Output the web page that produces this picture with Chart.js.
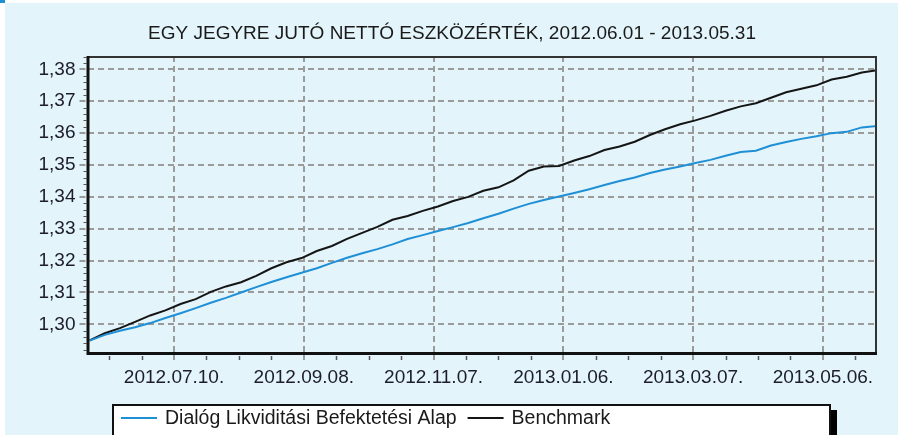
<!DOCTYPE html>
<html>
<head>
<meta charset="utf-8">
<script src="https://cdn.jsdelivr.net/npm/chart.js@4.4.1/dist/chart.umd.min.js"></script>
<style>
  html, body { margin: 0; padding: 0; background: #fff; }
  #wrap { width: 898px; height: 435px; }
</style>
</head>
<body>
<div id="wrap"><canvas id="navChart" width="898" height="435"></canvas></div>
<script>
// weekly values (fridays)
const dates = [
  "2012-06-01", "2012-06-08", "2012-06-15", "2012-06-22", "2012-06-29", "2012-07-06", "2012-07-13",
  "2012-07-20", "2012-07-27", "2012-08-03", "2012-08-10", "2012-08-17", "2012-08-24", "2012-08-31",
  "2012-09-07", "2012-09-14", "2012-09-21", "2012-09-28", "2012-10-05", "2012-10-12", "2012-10-19",
  "2012-10-26", "2012-11-02", "2012-11-09", "2012-11-16", "2012-11-23", "2012-11-30", "2012-12-07",
  "2012-12-14", "2012-12-21", "2012-12-28", "2013-01-04", "2013-01-11", "2013-01-18", "2013-01-25",
  "2013-02-01", "2013-02-08", "2013-02-15", "2013-02-22", "2013-03-01", "2013-03-08", "2013-03-15",
  "2013-03-22", "2013-03-29", "2013-04-05", "2013-04-12", "2013-04-19", "2013-04-26", "2013-05-03",
  "2013-05-10", "2013-05-17", "2013-05-24", "2013-05-31"
];

const fundValues = [
  1.2949, 1.2967, 1.2980, 1.2991, 1.3004, 1.3020, 1.3035,
  1.3051, 1.3068, 1.3083, 1.3100, 1.3117, 1.3133, 1.3148,
  1.3162, 1.3176, 1.3193, 1.3209, 1.3223, 1.3236, 1.3251,
  1.3268, 1.3280, 1.3293, 1.3305, 1.3318, 1.3333, 1.3347,
  1.3363, 1.3378, 1.3390, 1.3401, 1.3412, 1.3424, 1.3437,
  1.3450, 1.3461, 1.3475, 1.3486, 1.3495, 1.3506, 1.3516,
  1.3529, 1.3541, 1.3545, 1.3561, 1.3572, 1.3582, 1.3590,
  1.3600, 1.3604, 1.3618, 1.3622
];

const benchValues = [
  1.2950, 1.2972, 1.2988, 1.3008, 1.3028, 1.3044, 1.3064,
  1.3079, 1.3102, 1.3119, 1.3132, 1.3152, 1.3176, 1.3195,
  1.3208, 1.3230, 1.3246, 1.3268, 1.3287, 1.3306, 1.3328,
  1.3340, 1.3356, 1.3370, 1.3387, 1.3400, 1.3419, 1.3430,
  1.3452, 1.3482, 1.3495, 1.3497, 1.3514, 1.3528, 1.3547,
  1.3558, 1.3573, 1.3594, 1.3612, 1.3628, 1.3640, 1.3654,
  1.3670, 1.3684, 1.3694, 1.3711, 1.3728, 1.3739, 1.3750,
  1.3768, 1.3777, 1.3790, 1.3797
];

const seriesNames = ["Dialóg Likviditási Befektetési Alap", "Benchmark"];

const xTickDates = ["2012-07-10", "2012-09-08", "2012-11-07", "2013-01-06", "2013-03-07", "2013-05-06"];
const xTickLabels = ["2012.07.10.", "2012.09.08.", "2012.11.07.", "2013.01.06.", "2013.03.07.", "2013.05.06."];
const yTickValues = [1.30, 1.31, 1.32, 1.33, 1.34, 1.35, 1.36, 1.37, 1.38];
const yTickLabels = ["1,30", "1,31", "1,32", "1,33", "1,34", "1,35", "1,36", "1,37", "1,38"];

const chartTitle = "EGY JEGYRE JUTÓ NETTÓ ESZKÖZÉRTÉK, 2012.06.01 - 2013.05.31";

// days since 2012-06-01, used on a linear x scale
const day0 = Date.UTC(2012, 5, 1);
function dayOf(s) {
  const p = s.split("-");
  return (Date.UTC(+p[0], +p[1] - 1, +p[2]) - day0) / 864e5;
}

const FONT = "'Liberation Sans', Arial, sans-serif";
const gridGrey = "#9b9b9b";

const decor = {
  id: "decor",
  beforeDraw(chart) {
    const c = chart.ctx;
    c.save();
    c.fillStyle = "#ffffff";
    c.fillRect(0, 0, chart.width, chart.height);
    c.fillStyle = "#e3f4fa";
    c.fillRect(5, 3, chart.width - 5, chart.height - 3);
    c.fillStyle = "#1d8fd3";
    c.fillRect(0, 0, 5, 3);
    // title
    c.fillStyle = "#1a1a1a";
    c.font = "19px " + FONT;
    c.textAlign = "center";
    c.textBaseline = "middle";
    c.fillText(chartTitle, 452, 34);
    c.restore();
  },
  afterDraw(chart) {
    const c = chart.ctx;
    const a = chart.chartArea;
    const xs = chart.scales.x, ys = chart.scales.y;
    c.save();

    // minor ticks
    c.strokeStyle = "#555";
    c.lineWidth = 1.5;
    for (let d = 9; d <= 364; d += 15) {
      if ((d - 39) % 60 === 0) continue;
      const px = Math.round(xs.getPixelForValue(d)) + 0.5;
      c.beginPath();
      c.moveTo(px, a.bottom + 2);
      c.lineTo(px, a.bottom + 6);
      c.stroke();
    }
    c.lineWidth = 1;
    for (let k = 646; k <= 692; k++) {
      if (k % 5 === 0) continue;
      const py = Math.round(ys.getPixelForValue(k / 500)) + 0.5;
      c.beginPath();
      c.moveTo(a.left - 4, py);
      c.lineTo(a.left - 1, py);
      c.stroke();
    }

    // plot frame
    c.strokeStyle = "#333";
    c.lineWidth = 2;
    c.beginPath();
    c.moveTo(a.left, a.top + 1);
    c.lineTo(a.right - 1, a.top + 1);
    c.lineTo(a.right - 1, a.bottom);
    c.stroke();
    c.strokeStyle = "#111";
    c.lineWidth = 3;
    c.beginPath();
    c.moveTo(a.left + 0.5, a.top);
    c.lineTo(a.left + 0.5, a.bottom - 0.5);
    c.lineTo(a.right, a.bottom - 0.5);
    c.stroke();

    // legend box
    c.fillStyle = "#000";
    c.fillRect(830, 410, 7, 30);
    c.fillStyle = "#fff";
    c.fillRect(112, 404, 718, 40);
    c.strokeStyle = "#111";
    c.lineWidth = 2;
    c.strokeRect(113, 405, 717, 40);

    c.font = "19.5px " + FONT;
    c.textBaseline = "middle";
    c.textAlign = "left";
    let x = 121;
    chart.data.datasets.forEach((ds) => {
      c.strokeStyle = ds.borderColor;
      c.lineWidth = 2;
      c.beginPath();
      c.moveTo(x, 418);
      c.lineTo(x + 36, 418);
      c.stroke();
      c.fillStyle = "#1a1a1a";
      c.fillText(ds.label, x + 44, 419);
      x += 44 + c.measureText(ds.label).width + 11;
    });
    c.restore();
  }
};

Chart.defaults.font.family = FONT;

new Chart(document.getElementById("navChart"), {
  type: "line",
  data: {
    datasets: [
      {
        label: seriesNames[0],
        data: dates.map((d, i) => ({ x: dayOf(d), y: fundValues[i] })),
        borderColor: "#1f8fd6",
        borderWidth: 2,
        pointRadius: 0,
        tension: 0,
      },
      {
        label: seriesNames[1],
        data: dates.map((d, i) => ({ x: dayOf(d), y: benchValues[i] })),
        borderColor: "#151515",
        borderWidth: 2,
        pointRadius: 0,
        tension: 0,
      },
    ],
  },
  options: {
    responsive: false,
    animation: false,
    layout: {
      padding: { top: 56, right: 21, bottom: 0, left: 0 },
    },
    plugins: {
      legend: { display: false },
      title: { display: false },
      tooltip: { enabled: false },
    },
    scales: {
      x: {
        type: "linear",
        min: -1,
        max: 364,
        afterFit: (s) => { s.height = 81; },
        afterBuildTicks: (s) => { s.ticks = xTickDates.map((d) => ({ value: dayOf(d) })); },
        ticks: {
          autoSkip: false,
          maxRotation: 0,
          padding: 4,
          color: "#1c1c2c",
          font: { size: 19 },
          callback: (v, i) => xTickLabels[i],
        },
        grid: {
          color: gridGrey,
          lineWidth: 2,
          tickLength: 8,
          tickColor: gridGrey,
          tickWidth: 2,
          tickBorderDash: [6, 4],
        },
        border: { display: false, dash: [6, 4] },
      },
      y: {
        min: 1.2907,
        max: 1.3842,
        afterFit: (s) => { s.width = 87.5; },
        afterBuildTicks: (s) => { s.ticks = yTickValues.map((v) => ({ value: v })); },
        ticks: {
          padding: 4,
          color: "#1c1c2c",
          font: { size: 19 },
          callback: (v, i) => yTickLabels[i],
        },
        grid: {
          color: gridGrey,
          lineWidth: 2,
          tickLength: 8,
          tickColor: gridGrey,
          tickWidth: 2,
          tickBorderDash: [6, 4],
        },
        border: { display: false, dash: [6, 4] },
      },
    },
  },
  plugins: [decor],
});
</script>
</body>
</html>
